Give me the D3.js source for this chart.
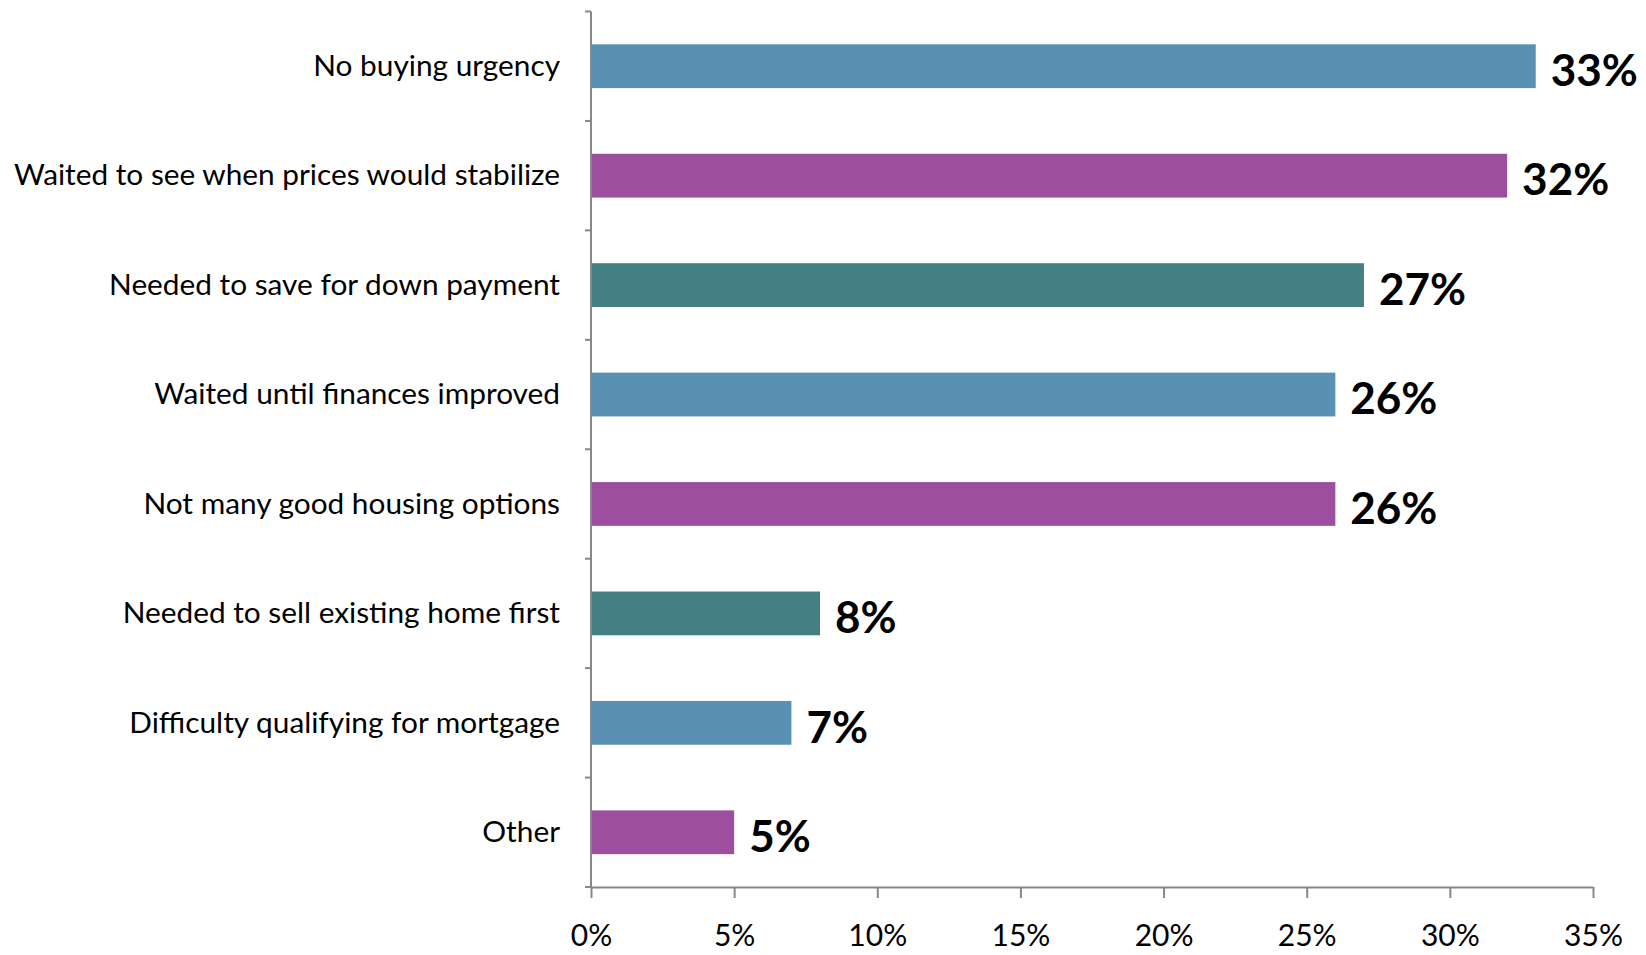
<!DOCTYPE html>
<html>
<head>
<meta charset="utf-8">
<script src="https://cdn.jsdelivr.net/npm/d3@7"></script>
<style>
  html, body { margin: 0; padding: 0; background: #fff; }
  svg { display: block; }
</style>
</head>
<body>
<svg id="chart" width="1646" height="955"></svg>
<script>
const categories = [
  "No buying urgency",
  "Waited to see when prices would stabilize",
  "Needed to save for down payment",
  "Waited until finances improved",
  "Not many good housing options",
  "Needed to sell existing home first",
  "Difficulty qualifying for mortgage",
  "Other"
];
const values = [33, 32, 27, 26, 26, 8, 7, 5];
const barColors = ["#5B90B5", "#9D4E9F", "#447F84"];
const xTicks = [0, 5, 10, 15, 20, 25, 30, 35];

(function () {
const svg = d3.select("#chart");
const mLeft = 591, mRight = 1593, mTop = 11.5, mBottom = 887;
const fontFam = "Lato, 'Open Sans', sans-serif";

const x = d3.scaleLinear().domain([0, 35]).range([mLeft, mRight]);
const y = d3.scaleBand().domain(categories).range([mTop, mBottom])
  .paddingInner(0.6).paddingOuter(0.3);

const axisColor = "#888888";

// bars
svg.append("g").selectAll("rect").data(categories).join("rect")
  .attr("x", x(0))
  .attr("y", d => y(d))
  .attr("width", (d, i) => x(values[i]) - x(0))
  .attr("height", y.bandwidth())
  .attr("fill", (d, i) => barColors[i % 3]);

// y axis line and boundary ticks
const gy = svg.append("g");
gy.append("line").attr("x1", mLeft).attr("x2", mLeft).attr("y1", mTop).attr("y2", mBottom)
  .attr("stroke", axisColor).attr("stroke-width", 2);
const bounds = d3.range(categories.length + 1).map(i => mTop + i * y.step());
gy.selectAll("line.tk").data(bounds).join("line").attr("class", "tk")
  .attr("x1", mLeft - 6).attr("x2", mLeft).attr("y1", d => d).attr("y2", d => d)
  .attr("stroke", axisColor).attr("stroke-width", 2);

// category labels
svg.append("g").selectAll("text").data(categories).join("text")
  .attr("x", 560)
  .attr("y", d => y(d) + y.bandwidth() / 2)
  .attr("dy", "0.33em")
  .attr("text-anchor", "end")
  .attr("font-family", fontFam)
  .attr("font-size", 29.8)
  .attr("fill", "#000")
  .text(d => d);

// x axis
const gx = svg.append("g").attr("transform", `translate(0,${mBottom})`)
  .call(d3.axisBottom(x).tickValues(xTicks).tickSize(11).tickSizeOuter(0).tickFormat(d => d + "%"));
gx.select(".domain").attr("stroke", axisColor).attr("stroke-width", 2);
gx.selectAll(".tick line").attr("stroke", axisColor).attr("stroke-width", 2);
gx.selectAll(".tick text")
  .attr("font-family", fontFam)
  .attr("font-size", 30)
  .attr("fill", "#000")
  .attr("y", 38)
  .attr("dy", "0.71em");

// value labels
svg.append("g").selectAll("text").data(categories).join("text")
  .attr("x", (d, i) => x(values[i]) + 15)
  .attr("y", d => y(d) + y.bandwidth() / 2)
  .attr("dy", "0.45em")
  .attr("font-family", fontFam)
  .attr("font-weight", "bold")
  .attr("font-size", 44)
  .attr("fill", "#000")
  .text((d, i) => values[i] + "%");
})();
</script>
</body>
</html>
